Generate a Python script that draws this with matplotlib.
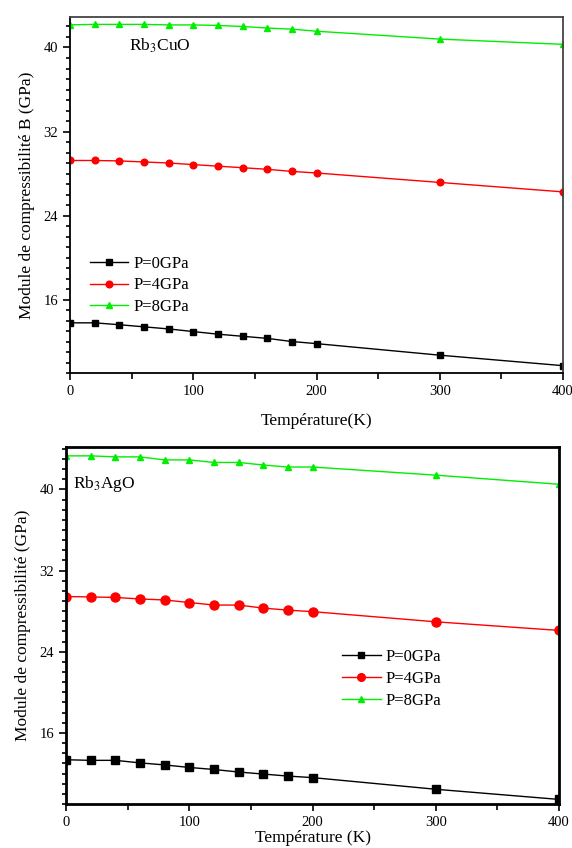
import matplotlib
matplotlib.use("Agg")
import matplotlib.pyplot as plt
from matplotlib.ticker import MultipleLocator

plt.rcParams['font.family'] = ['Liberation Serif', 'DejaVu Serif']
plt.rcParams['mathtext.fontset'] = 'stix'

temperature = [0, 20, 40, 60, 80, 100, 120, 140, 160, 180, 200, 300, 400]

# Rb3CuO
cu_p0 = [13.78, 13.78, 13.6, 13.4, 13.2, 12.95, 12.7, 12.5, 12.3, 12.0, 11.8, 10.7, 9.7]
cu_p4 = [29.24, 29.24, 29.2, 29.1, 29.0, 28.85, 28.7, 28.55, 28.4, 28.2, 28.05, 27.15, 26.25]
cu_p8 = [42.16, 42.2, 42.2, 42.2, 42.15, 42.15, 42.1, 42.0, 41.85, 41.75, 41.55, 40.8, 40.3]

# Rb3AgO
ag_p0 = [13.36, 13.3, 13.3, 13.05, 12.85, 12.6, 12.4, 12.15, 11.95, 11.75, 11.6, 10.45, 9.45]
ag_p4 = [29.44, 29.4, 29.35, 29.2, 29.1, 28.85, 28.6, 28.6, 28.3, 28.1, 27.95, 26.95, 26.1]
ag_p8 = [43.3, 43.3, 43.2, 43.2, 42.9, 42.9, 42.65, 42.65, 42.4, 42.2, 42.2, 41.4, 40.5]

labels = ['P=0GPa', 'P=4GPa', 'P=8GPa']


def style_axes(ax, spine_w, right_color):
    ax.set_xlim(0, 400)
    ax.xaxis.set_major_locator(MultipleLocator(100))
    ax.xaxis.set_minor_locator(MultipleLocator(50))
    ax.yaxis.set_major_locator(MultipleLocator(8))
    ax.yaxis.set_minor_locator(MultipleLocator(1))
    ax.tick_params(which='both', direction='out', top=False, right=False,
                   labelsize=10.5, width=1.2)
    ax.tick_params(which='major', length=5)
    ax.tick_params(which='minor', length=3)
    ax.tick_params(axis='x', which='minor', length=4)
    for s in ax.spines.values():
        s.set_linewidth(spine_w)
    ax.spines['right'].set_color(right_color)
    ax.spines['top'].set_color(right_color)


fig = plt.figure(figsize=(5.72, 8.48), dpi=100)

# top panel
ax1 = fig.add_axes([0.1224, 0.5601, 0.862, 0.4198])
ax1.plot(temperature, cu_p0, color='black', marker='s', ms=4, lw=1, label=labels[0])
ax1.plot(temperature, cu_p4, color='red', marker='o', ms=4.8, lw=1, label=labels[1])
ax1.plot(temperature, cu_p8, color='#00ee00', marker='^', ms=5, lw=1, label=labels[2])
ax1.set_ylim(9, 42.9)
style_axes(ax1, 1.3, '#444444')
ax1.set_xlabel('Température(K)', fontsize=12.5, labelpad=11)
ax1.set_ylabel('Module de compressibilité B (GPa)', fontsize=12.5, labelpad=6)
ax1.text(0.12, 0.905, 'Rb$_3$CuO', transform=ax1.transAxes, fontsize=12.5)
ax1.legend(loc='upper left', bbox_to_anchor=(0.01, 0.372), frameon=False,
           fontsize=12, handlelength=2.3, labelspacing=0.35, handletextpad=0.3)

# bottom panel
ax2 = fig.add_axes([0.1154, 0.0519, 0.862, 0.4213])
ax2.plot(temperature, ag_p0, color='black', marker='s', ms=5.5, lw=1, label=labels[0])
ax2.plot(temperature, ag_p4, color='red', marker='o', ms=6.5, lw=1, label=labels[1])
ax2.plot(temperature, ag_p8, color='#00ee00', marker='^', ms=5, lw=1, label=labels[2])
ax2.set_ylim(9, 44.2)
style_axes(ax2, 2, 'black')
ax2.set_xlabel('Température (K)', fontsize=12.5, labelpad=1)
ax2.set_ylabel('Module de compressibilité (GPa)', fontsize=12.5, labelpad=6)
ax2.text(0.015, 0.885, 'Rb$_3$AgO', transform=ax2.transAxes, fontsize=12.5)
ax2.legend(loc='upper left', bbox_to_anchor=(0.53, 0.476), frameon=False,
           fontsize=12, handlelength=2.3, labelspacing=0.35, handletextpad=0.3,
           markerscale=0.85)

fig.savefig('out.png', dpi=100)
